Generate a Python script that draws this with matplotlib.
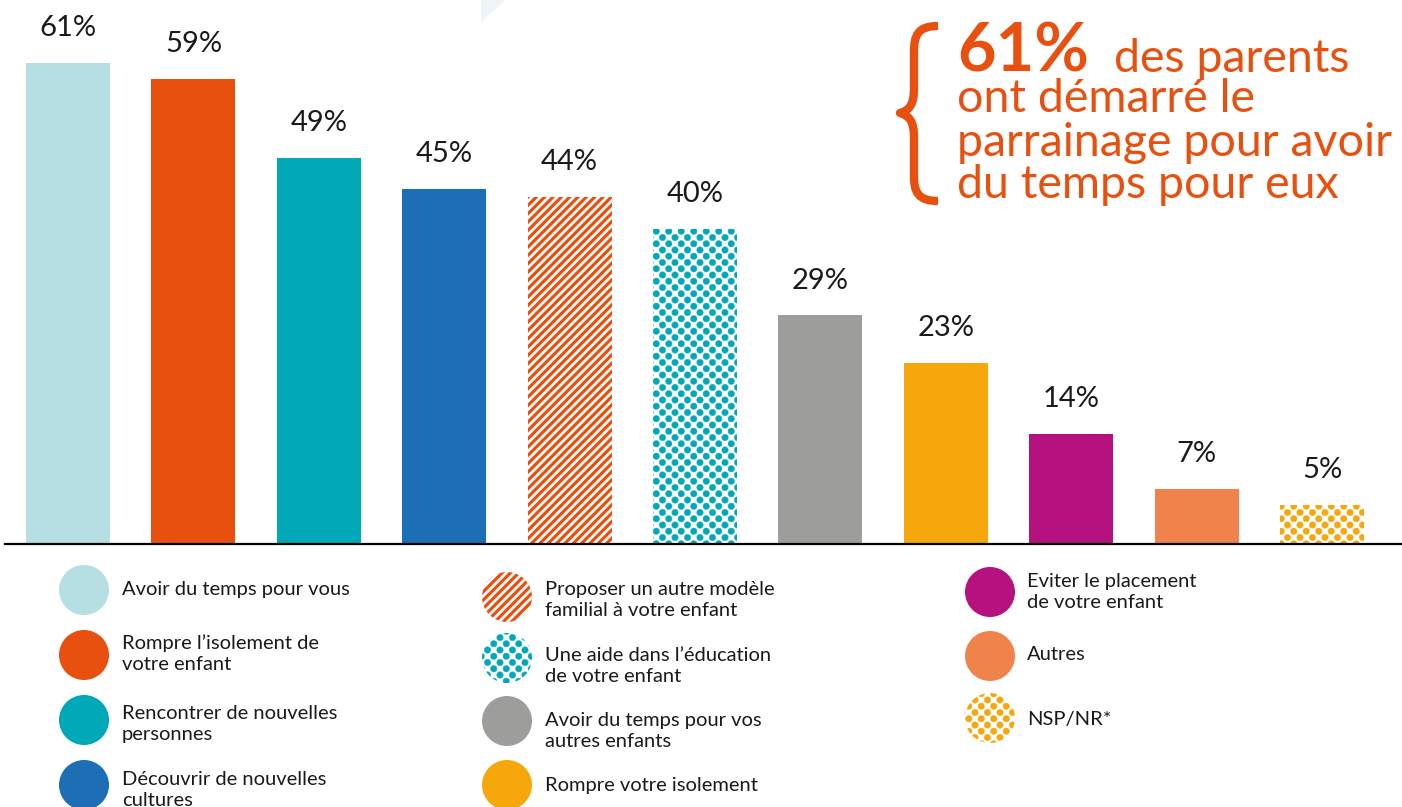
import matplotlib
matplotlib.use("Agg")
import numpy as np
import matplotlib.pyplot as plt
import matplotlib.hatch as mh
from matplotlib.patches import Circle, PathPatch, Polygon
from matplotlib.path import Path

# ---------------- data ----------------
categories = [
    "Avoir du temps pour vous",
    "Rompre l’isolement de\nvotre enfant",
    "Rencontrer de nouvelles\npersonnes",
    "Découvrir de nouvelles\ncultures",
    "Proposer un autre modèle\nfamilial à votre enfant",
    "Une aide dans l’éducation\nde votre enfant",
    "Avoir du temps pour vos\nautres enfants",
    "Rompre votre isolement",
    "Eviter le placement\nde votre enfant",
    "Autres",
    "NSP/NR*",
]
values = [61, 59, 49, 45, 44, 40, 29, 23, 14, 7, 5]
value_labels = [f"{v}%" for v in values]
colors = ["#B6DFE4", "#E8500F", "#00A8B8", "#1D6FB5", "#E8500F", "#00A8B8",
          "#9D9D9B", "#F5A70C", "#B5127F", "#F0834B", "#F5A70C"]
hatches = [None, None, None, None, "////", ".", None, None, None, None, "."]
callout_big = "61%"
callout_rest = ["des parents", "ont démarré le", "parrainage pour avoir", "du temps pour eux"]

ORANGE = "#E8500F"
TXT = "#1A1A1A"
FONT = "Lato"


# custom dot texture (staggered dots) replacing the tiny '.' hatch
class DotGrid(mh.HatchPatternBase):
    def __init__(self, hatch, density):
        n = hatch.count('.')
        circ = Path.unit_circle()
        self.sv = circ.vertices
        self.sc = circ.codes
        if n == 0:
            self.num_vertices = 0
            return
        ncol, nrow, self.r = 8, 16, 0.032
        centers = []
        for row in range(nrow + 1):
            y = row / nrow
            if row % 2 == 0:
                xs_ = [k / ncol for k in range(ncol + 1)]
            else:
                xs_ = [(k + 0.5) / ncol for k in range(ncol)]
            centers += [(x, y) for x in xs_]
        self.centers = centers
        self.num_vertices = len(centers) * len(self.sv)

    def set_vertices_and_codes(self, vertices, codes):
        L = len(self.sv)
        c = 0
        for (x, y) in self.centers:
            vertices[c:c + L] = self.sv * self.r + (x, y)
            codes[c:c + L] = self.sc
            c += L


_idx = mh._hatch_types.index(mh.SmallFilledCircles)
mh._hatch_types[_idx] = DotGrid

W, H = 1402, 807
fig = plt.figure(figsize=(W / 100, H / 100), dpi=100)


def hlw(h):
    return 2.3 if "/" in h else 0.3


def set_hlw(p, lw):
    if hasattr(p, "set_hatch_linewidth"):
        p.set_hatch_linewidth(lw)


# overlay axes in pixel coords for decorations / legend
ov = fig.add_axes([0, 0, 1, 1], zorder=0)
ov.set_xlim(0, W)
ov.set_ylim(H, 0)
ov.axis("off")

# main bar axes
base_px, top_px = 544, 63
x_left, x_right = 5, 1402
step, c0 = 125.4, 68
ax = fig.add_axes([x_left / W, 1 - base_px / H, (x_right - x_left) / W, (base_px - top_px) / H], zorder=1)
ax.patch.set_alpha(0)
ax.set_xlim((x_left - c0) / step, (x_right - c0) / step)
ax.set_ylim(0, 61)

for i, (v, c, h) in enumerate(zip(values, colors, hatches)):
    if h is None:
        ax.bar(i, v, width=0.67, color=c, linewidth=0, zorder=2)
    else:
        matplotlib.rcParams["hatch.linewidth"] = hlw(h)
        bars = ax.bar(i, v, width=0.67, facecolor="white", edgecolor=c, linewidth=0, hatch=h, zorder=2)
        for b in bars:
            set_hlw(b, hlw(h))
    ax.annotate(value_labels[i], (i, v), xytext=(0, 25), textcoords="offset points",
                ha="center", va="center", fontsize=21, family=FONT, color=TXT,
                annotation_clip=False)

for s in ["top", "right", "left"]:
    ax.spines[s].set_visible(False)
ax.spines["bottom"].set_linewidth(1.6)
ax.spines["bottom"].set_color("black")
ax.set_xticks([])
ax.set_yticks([])

# decorative pale triangle at top
ov.add_patch(Polygon([[481, 0], [505, 0], [481, 22]], closed=True, facecolor="#EDF5F8", edgecolor="none"))

# ---------------- legend ----------------
circ_pos = [(84, 590), (84, 655), (84, 720), (84, 785),
            (507, 597), (507, 658), (507, 721), (507, 785),
            (990, 592), (990, 656), (990, 718)]
text_pos = [(122, 589), (122, 654), (122, 724), (122, 790),
            (545, 600), (545, 666), (545, 731), (545, 786),
            (1027, 592), (1027, 655), (1027, 719)]
R = 25
for i in range(len(categories)):
    cx, cy = circ_pos[i]
    h = hatches[i]
    if h is None:
        p = Circle((cx, cy), R, facecolor=colors[i], edgecolor="none")
    else:
        matplotlib.rcParams["hatch.linewidth"] = hlw(h)
        p = Circle((cx, cy), R, facecolor="white", edgecolor=colors[i], linewidth=0, hatch=h)
        set_hlw(p, hlw(h))
    ov.add_patch(p)
    tx, ty = text_pos[i]
    ov.text(tx, ty, categories[i], ha="left", va="center", fontsize=14.5, family=FONT,
            color=TXT, linespacing=1.28)

# ---------------- callout ----------------
ov.text(957, 72, callout_big, ha="left", va="baseline", fontsize=48, fontweight="bold",
        family=FONT, color=ORANGE)
ov.text(1114, 72, callout_rest[0], ha="left", va="baseline", fontsize=33.5, family=FONT, color=ORANGE)
for line, yb in zip(callout_rest[1:], [112, 156, 198]):
    ov.text(957, yb, line, ha="left", va="baseline", fontsize=33.5, family=FONT, color=ORANGE)

# curly brace
verts = [(938, 26),
         (918, 26), (914, 35), (914, 52),
         (914, 88),
         (914, 104), (910, 110), (900, 113),
         (910, 116), (914, 122), (914, 138),
         (914, 176),
         (914, 192), (918, 201), (938, 201)]
codes = [Path.MOVETO,
         Path.CURVE4, Path.CURVE4, Path.CURVE4,
         Path.LINETO,
         Path.CURVE4, Path.CURVE4, Path.CURVE4,
         Path.CURVE4, Path.CURVE4, Path.CURVE4,
         Path.LINETO,
         Path.CURVE4, Path.CURVE4, Path.CURVE4]
ov.add_patch(PathPatch(Path(verts, codes), facecolor="none", edgecolor=ORANGE, linewidth=6,
                       capstyle="butt", joinstyle="round"))

fig.savefig("out.png", dpi=100)
